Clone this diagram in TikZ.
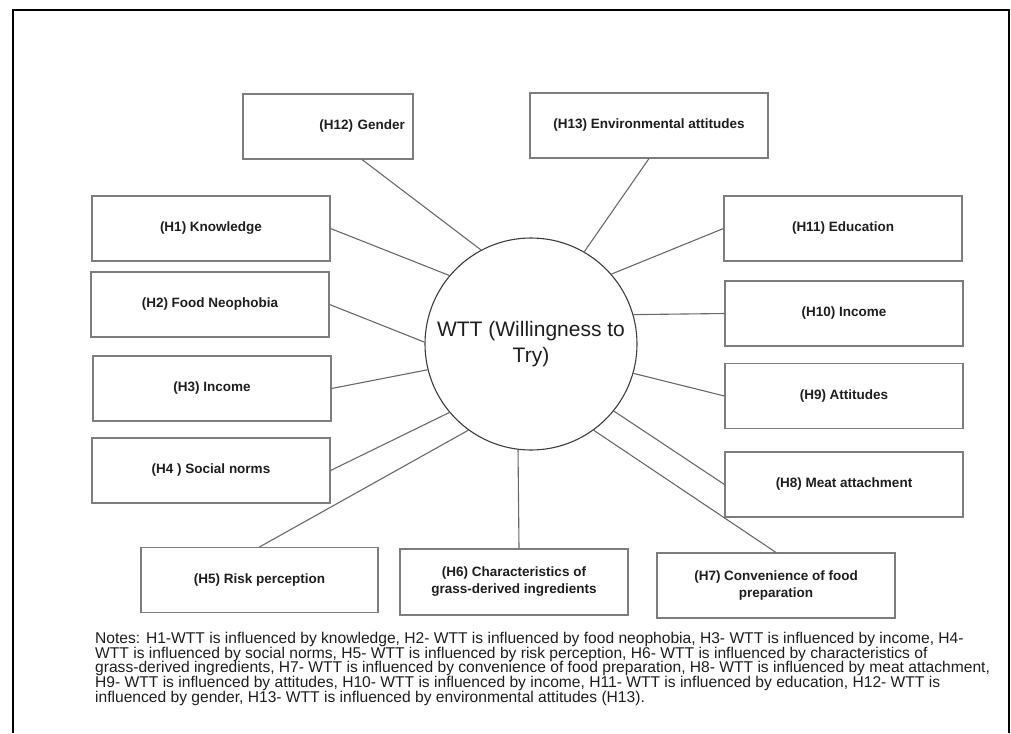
\documentclass[tikz,border=0pt]{standalone}
\usepackage{fontspec}
\setmainfont{Liberation Sans}
\definecolor{boxgray}{RGB}{125,125,125}
\definecolor{linkgray}{RGB}{105,105,105}
\definecolor{circgray}{RGB}{60,60,60}
\definecolor{inkdark}{RGB}{30,30,30}

\begin{document}
\begin{tikzpicture}[x=1pt, y=-1pt,
  hyp/.style={draw=boxgray, line width=1.1pt, fill=white,
    minimum width=238pt, minimum height=65pt, inner sep=0pt,
    align=center, text=inkdark,
    font=\fontsize{13.5}{17}\selectfont\bfseries},
  link/.style={draw=linkgray, line width=1.1pt}]
  \useasboundingbox (0,0) rectangle (1011,733);
  % outer frame
  \draw[line width=2.2pt] (13,733) -- (13,10) -- (1009,10) -- (1009,733);
  % centre
  \node[circle, draw=circgray, line width=1.1pt, minimum size=212pt,
    inner sep=0pt, align=center, text=inkdark,
    font=\fontsize{21}{26}\selectfont] (wtt) at (531,344)
    {WTT (Willingness to\\Try)};
  % top row
  \node[hyp, minimum width=170pt, text width=154pt, align=right] (h12)
    at (328,126.5) {(H12) Gender};
  \node[hyp] (h13) at (649,125.5) {(H13) Environmental attitudes};
  % left column
  \node[hyp] (h1) at (211,228.5) {(H1) Knowledge};
  \node[hyp] (h2) at (210,304.5) {(H2) Food Neophobia};
  \node[hyp] (h3) at (212,388.5) {(H3) Income};
  \node[hyp] (h4) at (211,470.5) {(H4 ) Social norms};
  % right column
  \node[hyp] (h11) at (843,228.5) {(H11) Education};
  \node[hyp] (h10) at (844,313.5) {(H10) Income};
  \node[hyp] (h9) at (844,396) {(H9) Attitudes};
  \node[hyp] (h8) at (844,484.5) {(H8) Meat attachment};
  % bottom row
  \node[hyp, minimum width=237pt] (h5) at (259.5,580) {(H5) Risk perception};
  \node[hyp, minimum width=228pt, minimum height=66pt] (h6) at (514,582)
    {(H6) Characteristics of\\grass-derived ingredients};
  \node[hyp] (h7) at (776,585.5) {(H7) Convenience of food\\preparation};
  % links
  \draw[link] ([xshift=34pt]h12.south) -- (wtt.118.7);
  \draw[link] (h13.south) -- (wtt.60.1);
  \draw[link] (h1.east) -- (wtt.140.3);
  \draw[link] (h2.east) -- (wtt.179.5);
  \draw[link] (h3.east) -- (wtt.194.7);
  \draw[link] (h4.east) -- (wtt.220.4);
  \draw[link] (h11.west) -- (wtt.41.6);
  \draw[link] (h10.west) -- (wtt.16.7);
  \draw[link] (h9.west) -- (wtt.344.8);
  \draw[link] (h8.west) -- (wtt.321.8);
  \draw[link] (h7.north) -- (wtt.306.5);
  \draw[link] ([xshift=5pt]h6.north) -- (wtt.263.5);
  \draw[link] (h5.north) -- (wtt.234.9);
  % notes
  \node[anchor=north west, inner sep=0pt, align=left, text=inkdark,
    font=\fontsize{15.6}{14.7}\selectfont] (notes) at (95,632)
    {Notes: H1-WTT is influenced by knowledge, H2- WTT is influenced by food neophobia, H3- WTT is influenced by income, H4-\\
     WTT is influenced by social norms, H5- WTT is influenced by risk perception, H6- WTT is influenced by characteristics of\\
     grass-derived ingredients, H7- WTT is influenced by convenience of food preparation, H8- WTT is influenced by meat attachment,\\
     H9- WTT is influenced by attitudes, H10- WTT is influenced by income, H11- WTT is influenced by education, H12- WTT is\\
     influenced by gender, H13- WTT is influenced by environmental attitudes (H13).};
\end{tikzpicture}
\end{document}
